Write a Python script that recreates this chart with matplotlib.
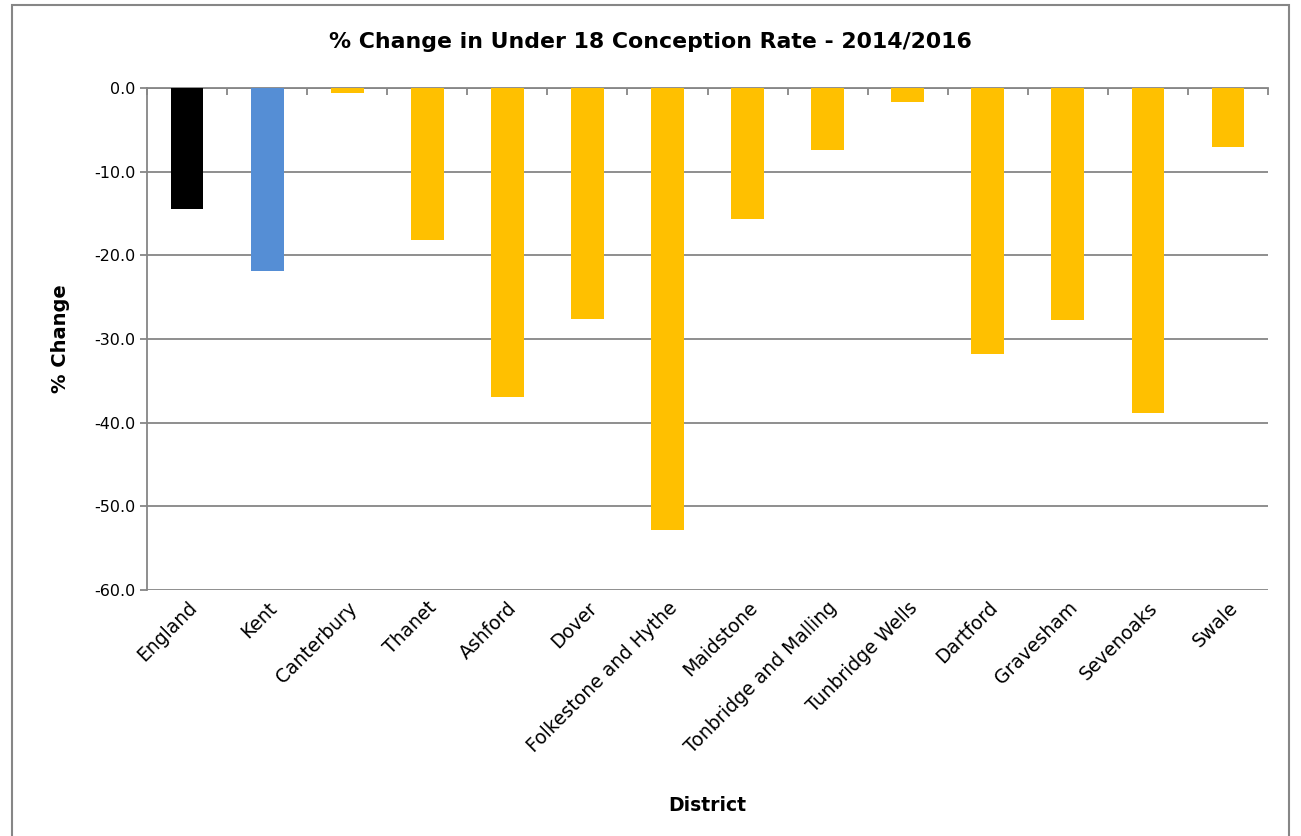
import numpy as np
import matplotlib.pyplot as plt
from matplotlib.patches import Rectangle

districts = ["England", "Kent", "Canterbury", "Thanet", "Ashford", "Dover",
             "Folkestone and Hythe", "Maidstone", "Tonbridge and Malling",
             "Tunbridge Wells", "Dartford", "Gravesham", "Sevenoaks", "Swale"]
pct_change = [-14.5, -21.9, -0.6, -18.2, -36.9, -27.6, -52.8, -15.6, -7.4,
              -1.7, -31.8, -27.7, -38.8, -7.1]
bar_colors = ["#000000", "#558ED5"] + ["#FFC000"] * 12

grey = "#868686"
plt.rcParams['font.family'] = ['DejaVu Sans']

fig = plt.figure(figsize=(13.01, 8.36), dpi=100)
ax = fig.add_axes([0.113, 0.2943, 0.8617, 0.6004])

x = np.arange(len(districts))
ax.bar(x, pct_change, width=0.41, color=bar_colors, zorder=3)

ax.set_xlim(-0.5, len(districts) - 0.5)
ax.set_ylim(-60, 0)
ax.set_yticks(np.arange(-60, 1, 10))
ax.set_yticklabels(["%.1f" % v for v in np.arange(-60, 1, 10)], fontsize=11.5)
ax.yaxis.grid(True, color=grey, linewidth=1.3, zorder=0)

ax.set_xticks(x)
ax.set_xticklabels(districts, rotation=45, ha='right', rotation_mode='anchor', fontsize=13.5)
ax.tick_params(axis='x', which='major', length=0, pad=6)
ax.set_xticks(np.arange(-0.5, len(districts)), minor=True)
ax.tick_params(axis='x', which='minor', top=True, bottom=False, direction='in',
               length=5, color=grey, width=1.3)
ax.tick_params(axis='y', length=5, color=grey, width=1.3)

for s in ['right', 'bottom']:
    ax.spines[s].set_visible(False)
for s in ['left', 'top']:
    ax.spines[s].set_color(grey)
    ax.spines[s].set_linewidth(1.3)

ax.set_ylabel("% Change", fontsize=14, fontweight='bold')
ax.yaxis.set_label_coords(-0.069, 0.5)
ax.set_xlabel("District", fontsize=13.5, fontweight='bold')
ax.xaxis.set_label_coords(0.5, -0.41)
fig.text(0.5, 0.95, "% Change in Under 18 Conception Rate - 2014/2016",
         ha='center', va='center', fontsize=15.8, fontweight='bold')

fig.patches.append(Rectangle((0.0095, -0.01), 0.981, 1.004, transform=fig.transFigure,
                             fill=False, edgecolor=grey, linewidth=1.5))

fig.savefig("out.png", dpi=100)
